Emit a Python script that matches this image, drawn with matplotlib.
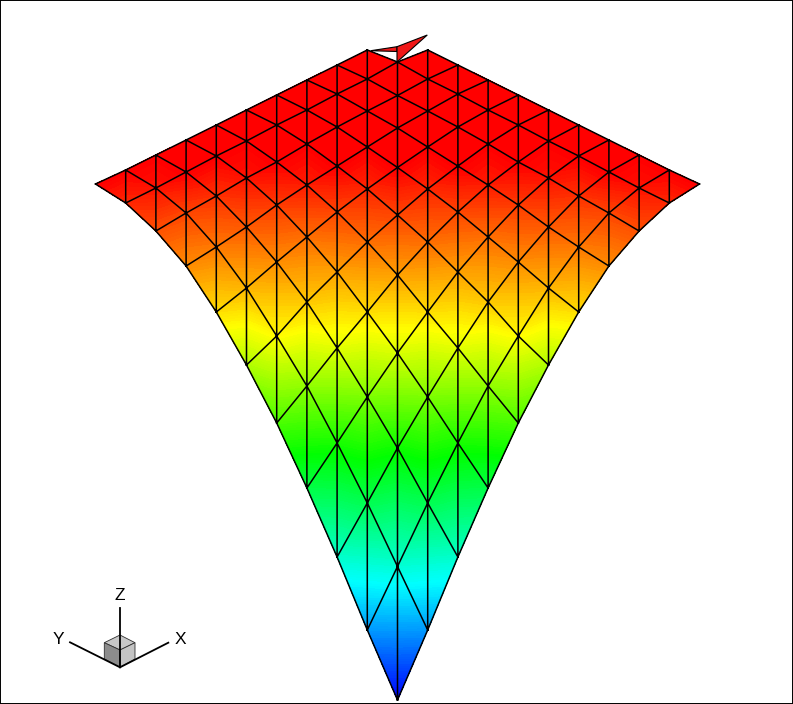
import numpy as np
import matplotlib
matplotlib.use('Agg')
import matplotlib.pyplot as plt
import matplotlib.tri as mtri
from matplotlib.colors import LinearSegmentedColormap

# screen rows of the mesh nodes, one list per column, bottom node first
col_0 = [700, 566.5, 448, 353, 275, 215, 167.5, 128, 95.5, 62, 47]
col_1 = [630, 503, 397, 312, 242, 189, 147, 111, 79, 50]
col_2 = [557, 443, 348, 272, 212, 166, 127, 94, 65]
col_3 = [488, 386, 302, 237, 185, 144, 110, 80]
col_4 = [423, 336, 262, 205, 162, 125, 95]
col_5 = [365, 288, 227, 178, 141, 110]
col_6 = [312, 247, 196, 156, 125]
col_7 = [266, 213, 172, 140]
col_8 = [231, 188, 155]
col_9 = [203, 170]
col_10 = [184]
columns_y = [col_0, col_1, col_2, col_3, col_4, col_5, col_6, col_7, col_8, col_9, col_10]

# contour level at the same nodes, 0 = blue, 1 = red
lev_0 = [0.0, 0.29, 0.51, 0.71, 0.84, 0.93, 1.0, 1.0, 1.0, 1.0, 1.0]
lev_1 = [0.15, 0.42, 0.62, 0.78, 0.89, 0.96, 1.0, 1.0, 1.0, 1.0]
lev_2 = [0.30, 0.52, 0.72, 0.84, 0.93, 1.0, 1.0, 1.0, 1.0]
lev_3 = [0.43, 0.64, 0.80, 0.89, 0.97, 1.0, 1.0, 1.0]
lev_4 = [0.57, 0.75, 0.86, 0.94, 1.0, 1.0, 1.0]
lev_5 = [0.67, 0.82, 0.91, 0.98, 1.0, 1.0]
lev_6 = [0.78, 0.88, 0.95, 1.0, 1.0]
lev_7 = [0.86, 0.93, 1.0, 1.0]
lev_8 = [0.92, 0.98, 1.0]
lev_9 = [0.96, 1.0]
lev_10 = [1.0]
columns_lev = [lev_0, lev_1, lev_2, lev_3, lev_4, lev_5, lev_6, lev_7, lev_8, lev_9, lev_10]

centre_x = 397.5
col_step = 30.2

# the two torn triangles at the top corner
flag_left_x = [370.7, 397, 397]
flag_left_y = [50.7, 46.7, 51.5]
flag_right_x = [397, 427.3, 397]
flag_right_y = [62, 35, 46.7]

# axes triad
triad_x = [168.3, 70, 120]
triad_y = [642.7, 642.3, 608]
triad_labels = ['X', 'Y', 'Z']
triad_label_x = [180, 58, 119.5]
triad_label_y = [639.5, 639.5, 595.5]
origin = (120, 667.3)
cube_top = [(120, 635), (135, 642.7), (120, 650), (104.3, 642.7)]
cube_left = [(104.3, 642.7), (120, 650), (120, 667.3), (104.3, 659)]
cube_right = [(120, 650), (135, 642.7), (135, 659), (120, 667.3)]

n = 11
node_id = {}
xs, ys, zs = [], [], []
for k in range(-10, 11):
    for m in range(n - abs(k)):
        i = m + max(k, 0)
        j = m + max(-k, 0)
        node_id[(i, j)] = len(xs)
        xs.append(centre_x + k * col_step)
        ys.append(columns_y[abs(k)][m])
        zs.append(columns_lev[abs(k)][m])

tris = []
for i in range(n - 1):
    for j in range(n - 1):
        if i == n - 2 and j == n - 2:
            continue  # top cell is torn, drawn on its own below
        a = node_id[(i, j)]
        b = node_id[(i + 1, j)]
        c = node_id[(i + 1, j + 1)]
        d = node_id[(i, j + 1)]
        tris.append((a, b, c))
        tris.append((a, c, d))
tri = mtri.Triangulation(xs, ys, tris)

rainbow = LinearSegmentedColormap.from_list('small_rainbow', ['#0000ff', '#00ffff', '#00ff00', '#ffff00', '#ff0000'])

fig = plt.figure(figsize=(7.93, 7.04), dpi=100)
ax = fig.add_axes([0, 0, 1, 1])
ax.set_xlim(0, 793)
ax.set_ylim(704, 0)
ax.set_xticks([])
ax.set_yticks([])
for s in ax.spines.values():
    s.set_linewidth(1.4)

levels = np.linspace(-0.001, 1.001, 200)
ax.tricontourf(tri, zs, levels=levels, cmap=rainbow, vmin=0, vmax=1, antialiased=False)
ax.triplot(tri, color='black', lw=1.1)

ax.fill(flag_left_x, flag_left_y, facecolor='#f01818', edgecolor='black', lw=0.8)
ax.fill(flag_right_x, flag_right_y, facecolor='#f01818', edgecolor='black', lw=0.8)

for tx, ty in zip(triad_x, triad_y):
    ax.plot([origin[0], tx], [origin[1], ty], color='black', lw=1.3)
for pts, col in [(cube_top, '#c8c8c8'), (cube_left, '#8c8c8c'), (cube_right, '#c4c4c4')]:
    ax.fill(*zip(*pts), facecolor=col, edgecolor='#303030', lw=0.6)
for lab, lx, ly in zip(triad_labels, triad_label_x, triad_label_y):
    ax.text(lx, ly, lab, fontsize=12.5, family='Liberation Sans', ha='center', va='center')

fig.savefig('out.png', dpi=100)
